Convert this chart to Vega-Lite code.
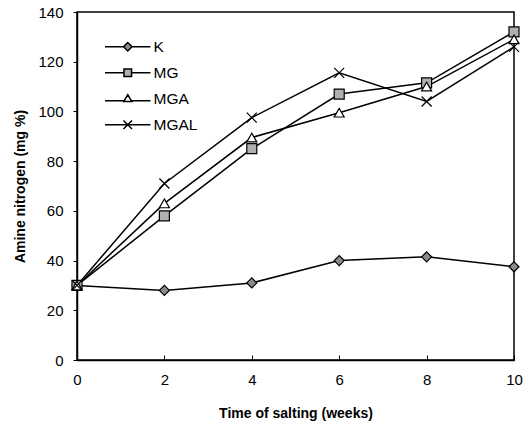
{
  "$schema": "https://vega.github.io/schema/vega-lite/v6.json",
  "width": 437,
  "height": 348,
  "autosize": "none",
  "padding": {"left": 77, "top": 12, "right": 10, "bottom": 69},
  "background": "white",
  "config": {
    "font": "Liberation Sans",
    "view": {"stroke": "black", "strokeWidth": 1.5},
    "axis": {"grid": false, "domainColor": "black", "domainWidth": 1.5, "tickColor": "black", "labelColor": "black", "titleColor": "black", "labelFontSize": 15, "titleFontSize": 14, "titleFontWeight": "bold"}
  },
  "data": {
    "values": [
      {"week": 0, "series": "K", "value": 30},
      {"week": 2, "series": "K", "value": 28},
      {"week": 4, "series": "K", "value": 31},
      {"week": 6, "series": "K", "value": 40},
      {"week": 8, "series": "K", "value": 41.5},
      {"week": 10, "series": "K", "value": 37.5},
      {"week": 0, "series": "MG", "value": 30},
      {"week": 2, "series": "MG", "value": 58},
      {"week": 4, "series": "MG", "value": 85},
      {"week": 6, "series": "MG", "value": 107},
      {"week": 8, "series": "MG", "value": 111.5},
      {"week": 10, "series": "MG", "value": 132},
      {"week": 0, "series": "MGA", "value": 30},
      {"week": 2, "series": "MGA", "value": 63},
      {"week": 4, "series": "MGA", "value": 89.5},
      {"week": 6, "series": "MGA", "value": 99.5},
      {"week": 8, "series": "MGA", "value": 110},
      {"week": 10, "series": "MGA", "value": 129},
      {"week": 0, "series": "MGAL", "value": 30},
      {"week": 2, "series": "MGAL", "value": 71},
      {"week": 4, "series": "MGAL", "value": 97.5},
      {"week": 6, "series": "MGAL", "value": 115.5},
      {"week": 8, "series": "MGAL", "value": 104},
      {"week": 10, "series": "MGAL", "value": 126}
    ]
  },
  "encoding": {
    "x": {"field": "week", "type": "quantitative", "scale": {"domain": [0, 10], "nice": false},
      "axis": {"values": [0, 2, 4, 6, 8, 10], "title": "Time of salting (weeks)", "tickSize": -5, "labelPadding": 17, "titlePadding": 19, "labelFlush": false}},
    "y": {"field": "value", "type": "quantitative", "scale": {"domain": [0, 140], "nice": false},
      "axis": {"values": [0, 20, 40, 60, 80, 100, 120, 140], "title": "Amine nitrogen (mg %)", "tickSize": 4, "labelPadding": 10, "titlePadding": 10}}
  },
  "layer": [
    {
      "mark": {"type": "line", "color": "black", "strokeWidth": 1.5},
      "encoding": {"detail": {"field": "series"}}
    },
    {
      "mark": {"type": "point", "filled": true, "stroke": "black", "strokeWidth": 1.2, "size": 100, "opacity": 1},
      "encoding": {
        "shape": {"field": "series", "type": "nominal",
          "scale": {"domain": ["K", "MG", "MGA", "MGAL"], "range": ["diamond", "square", "triangle-up", "M-1,-1L1,1M-1,1L1,-1"]},
          "legend": null},
        "fill": {"field": "series", "type": "nominal",
          "scale": {"domain": ["K", "MG", "MGA", "MGAL"], "range": ["#8a8a8a", "#b0b0b0", "#ffffff", "#000000"]},
          "legend": null}
      }
    },
    {
      "mark": {"type": "point", "filled": true, "stroke": "black", "strokeWidth": 1.3, "size": 0, "opacity": 1},
      "encoding": {
        "shape": {"field": "series", "type": "nominal",
          "scale": {"domain": ["K", "MG", "MGA", "MGAL"], "range": [
            "M-4.8,0H-0.9M0,-0.9L0.9,0L0,0.9L-0.9,0ZM0.9,0H4.8",
            "M-4.8,0H-0.8M-0.8,-0.8H0.8V0.8H-0.8ZM0.8,0H4.8",
            "M-4.8,0.4H-0.75M0,-0.85L0.85,0.6L-0.85,0.6ZM0.75,0.4H4.8",
            "M-4.8,0H4.8M-0.9,-0.9L0.9,0.9M-0.9,0.9L0.9,-0.9"]},
          "legend": {
            "orient": "none", "legendX": 43, "legendY": 27, "title": null,
            "symbolSize": 90, "labelFontSize": 15.5, "labelColor": "black", "labelOffset": 18, "rowPadding": 9,
            "encode": {"symbols": {
              "stroke": {"value": "black"},
              "strokeWidth": {"value": 1.3},
              "opacity": {"value": 1},
              "fillOpacity": {"value": 1}
            }}
          }},
        "fill": {"field": "series", "type": "nominal",
          "scale": {"domain": ["K", "MG", "MGA", "MGAL"], "range": ["#8a8a8a", "#b0b0b0", "#ffffff", "#000000"]},
          "legend": {
            "orient": "none", "legendX": 43, "legendY": 27, "title": null,
            "symbolSize": 90, "labelFontSize": 15.5, "labelColor": "black", "labelOffset": 18, "rowPadding": 9,
            "encode": {"symbols": {
              "stroke": {"value": "black"},
              "strokeWidth": {"value": 1.3},
              "opacity": {"value": 1},
              "fillOpacity": {"value": 1}
            }}
          }}
      }
    }
  ],
  "resolve": {"scale": {"shape": "independent", "fill": "independent"}}
}
